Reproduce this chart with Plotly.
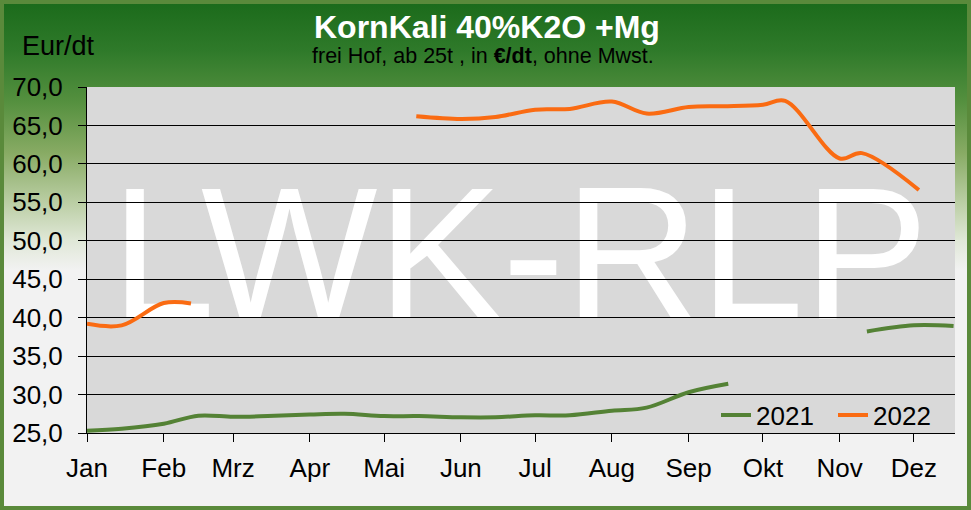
import base64
import plotly.graph_objects as go

# ---------------- data ----------------
month_labels = ['Jan', 'Feb', 'Mrz', 'Apr', 'Mai', 'Jun', 'Jul', 'Aug', 'Sep', 'Okt', 'Nov', 'Dez']
month_starts = ['2022-01-01', '2022-02-01', '2022-03-01', '2022-04-01', '2022-05-01', '2022-06-01',
                '2022-07-01', '2022-08-01', '2022-09-01', '2022-10-01', '2022-11-01', '2022-12-01']

dates_2021 = ['2022-01-01', '2022-01-15', '2022-02-01', '2022-02-15', '2022-03-01', '2022-03-15',
              '2022-04-01', '2022-04-15', '2022-05-01', '2022-05-15', '2022-06-01', '2022-06-15',
              '2022-07-01', '2022-07-15', '2022-08-01', '2022-08-15', '2022-09-01', '2022-09-17',
              '2022-10-15', '2022-11-12', '2022-12-01', '2022-12-17']
values_2021 = [25.3, 25.55, 26.2, 27.25, 27.1, 27.2,
               27.4, 27.5, 27.2, 27.2, 27.05, 27.05,
               27.3, 27.3, 27.9, 28.3, 30.3, 31.4,
               None, 38.2, 39.0, 38.9]

dates_2022 = ['2022-01-01', '2022-01-15', '2022-02-01', '2022-02-12', '2022-04-01',
              '2022-05-14', '2022-06-01', '2022-06-15', '2022-07-01', '2022-07-15',
              '2022-08-01', '2022-08-15', '2022-09-01', '2022-09-15', '2022-10-01',
              '2022-10-10', '2022-11-01', '2022-11-10', '2022-12-03']
values_2022 = [39.2, 39.0, 41.9, 41.85, None,
               66.2, 65.85, 66.1, 67.05, 67.15,
               68.1, 66.55, 67.4, 67.5, 67.7,
               68.2, 60.7, 61.4, 56.6]

y_ticks = [25, 30, 35, 40, 45, 50, 55, 60, 65, 70]

title_text = 'KornKali 40%K2O +Mg'
subtitle_text = 'frei Hof, ab 25t , in <b>€/dt</b>, ohne Mwst.'
unit_text = 'Eur/dt'
watermark_text = 'LWK-RLP'

# ---------------- style ----------------
W, H = 971, 510
ML, MR, MT, MB = 87, 16, 87, 77
PW, PH = W - ML - MR, H - MT - MB
FONT = 'Liberation Sans, Arial, sans-serif'
GREEN = '#548235'
ORANGE = '#FA6B12'


def px(x):
    return (x - ML) / PW


def py(y):
    return (H - MB - y) / PH


grad_svg = (
    '<svg xmlns="http://www.w3.org/2000/svg" width="971" height="510" preserveAspectRatio="none">'
    '<defs><linearGradient id="g" x1="0" y1="0" x2="0" y2="1">'
    '<stop offset="0" stop-color="#1a6a1a"/>'
    '<stop offset="0.1" stop-color="#2f7a2a"/>'
    '<stop offset="0.2" stop-color="#55903f"/>'
    '<stop offset="0.3" stop-color="#88ab64"/>'
    '<stop offset="0.4" stop-color="#bccfa6"/>'
    '<stop offset="0.47" stop-color="#dfe7d6"/>'
    '<stop offset="0.53" stop-color="#f2f2f2"/>'
    '<stop offset="1" stop-color="#f2f2f2"/>'
    '</linearGradient></defs>'
    '<rect x="0" y="0" width="971" height="510" fill="url(#g)"/></svg>'
)
grad_uri = 'data:image/svg+xml;base64,' + base64.b64encode(grad_svg.encode()).decode()

fig = go.Figure()

# watermark on its own (lower) subplot so the grid lines of the data subplot pass over it
fig.add_trace(go.Scatter(
    x=[0.4985], y=[0.468], mode='text', text=[watermark_text],
    textfont=dict(family=FONT, size=187, color='white'),
    hoverinfo='skip', showlegend=False, xaxis='x', yaxis='y'))

fig.add_trace(go.Scatter(
    x=dates_2021, y=values_2021, name='2021', mode='lines',
    line=dict(color=GREEN, width=4, shape='spline', smoothing=1),
    connectgaps=False, xaxis='x2', yaxis='y2'))
fig.add_trace(go.Scatter(
    x=dates_2022, y=values_2022, name='2022', mode='lines',
    line=dict(color=ORANGE, width=4, shape='spline', smoothing=1),
    connectgaps=False, xaxis='x2', yaxis='y2'))

fig.update_layout(
    width=W, height=H,
    margin=dict(l=ML, r=MR, t=MT, b=MB, pad=0),
    paper_bgcolor='#f2f2f2',
    plot_bgcolor='rgba(0,0,0,0)',
    separators=',.',
    font=dict(family=FONT, color='black'),
    showlegend=True,
    xaxis=dict(domain=[0, 1], range=[0, 1], visible=False, fixedrange=True),
    yaxis=dict(domain=[0, 1], range=[0, 1], visible=False, fixedrange=True),
    xaxis2=dict(
        domain=[0, 1], anchor='y2', type='date',
        range=['2022-01-01', '2022-12-17 14:00'],
        tickmode='array', tickvals=month_starts, ticktext=month_labels,
        ticks='outside', ticklen=8, tickwidth=1, tickcolor='black',
        showline=True, linecolor='black', linewidth=1,
        showgrid=False, zeroline=False,
        tickfont=dict(family=FONT, size=26, color='black'),
        ticklabelstandoff=4),
    yaxis2=dict(
        domain=[0, 1], anchor='x2',
        range=[25, 70], tickmode='array', tickvals=y_ticks,
        tickformat='.1f',
        ticks='outside', ticklen=8, tickwidth=1, tickcolor='black',
        showline=True, linecolor='black', linewidth=1,
        showgrid=True, gridcolor='black', gridwidth=1, zeroline=False,
        tickfont=dict(family=FONT, size=26, color='black'),
        ticklabelstandoff=10),
    legend=dict(
        orientation='h', x=px(716), y=py(415), xanchor='left', yanchor='middle',
        bgcolor='rgba(0,0,0,0)', font=dict(family=FONT, size=26, color='black'),
        itemwidth=30, entrywidth=72, entrywidthmode='pixels', tracegroupgap=0),
    images=[dict(
        source=grad_uri, xref='paper', yref='paper',
        x=px(0), y=py(0), sizex=W / PW, sizey=H / PH,
        xanchor='left', yanchor='top', sizing='stretch', layer='below')],
    shapes=[
        dict(type='rect', xref='paper', yref='paper', x0=0, x1=1, y0=0, y1=1,
             fillcolor='#d9d9d9', line=dict(width=0), layer='below'),
        dict(type='rect', xref='paper', yref='paper', x0=px(0), x1=px(W), y0=py(H), y1=py(0),
             fillcolor='rgba(0,0,0,0)', line=dict(color='#5a8a3b', width=8), layer='below'),
    ],
    annotations=[
        dict(text=title_text, xref='paper', yref='paper', x=px(487), y=py(27),
             xanchor='center', yanchor='middle', showarrow=False,
             font=dict(family=FONT, size=32, color='white', weight='bold')),
        dict(text=subtitle_text, xref='paper', yref='paper', x=px(483), y=py(56),
             xanchor='center', yanchor='middle', showarrow=False,
             font=dict(family=FONT, size=21.5, color='black')),
        dict(text=unit_text, xref='paper', yref='paper', x=px(58.5), y=py(46),
             xanchor='center', yanchor='middle', showarrow=False,
             font=dict(family=FONT, size=27, color='black')),
    ],
)

fig.write_html('out.html', config={'displayModeBar': False},
               post_script="document.body.style.margin='0';document.body.style.padding='0';")
